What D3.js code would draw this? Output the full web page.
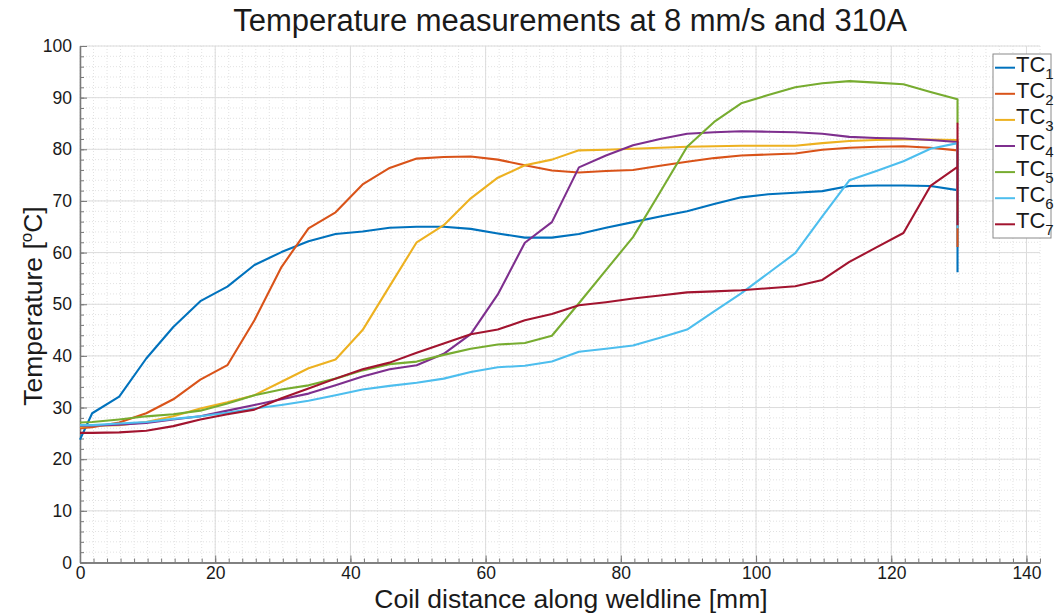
<!DOCTYPE html>
<html lang="en">
<head>
<meta charset="UTF-8"/>
<title>Temperature measurements at 8 mm/s and 310A</title>
<script src="https://d3js.org/d3.v7.min.js"></script>
<style>
    body { margin: 0; background: #ffffff; }
    svg text { font-family: "Liberation Sans", Arial, Helvetica, sans-serif; fill: #1a1a1a; }
</style>
</head>
<body>
<script>
// coil distance along weldline [mm]
var distance = [0, 1.8, 5.8, 9.8, 13.8, 17.8, 21.8, 25.8, 29.8, 33.8, 37.8, 41.8, 45.8, 49.8,
                53.8, 57.8, 61.8, 65.8, 69.8, 73.8, 77.8, 81.8, 85.8, 89.8, 93.8, 97.8,
                101.8, 105.8, 109.8, 113.8, 117.8, 121.8, 125.8, 129.8];

var tc1 = [23.8, 28.9, 32.1, 39.5, 45.6, 50.6, 53.4, 57.6, 60.1, 62.2, 63.6, 64.1, 64.8, 65.0,
           65.0, 64.6, 63.7, 62.9, 62.9, 63.6, 64.8, 65.9, 67.0, 68.0, 69.4, 70.7,
           71.3, 71.6, 71.9, 72.9, 73.0, 73.0, 72.9, 72.1];
var tc2 = [26.0, 26.2, 27.1, 28.9, 31.6, 35.4, 38.2, 46.9, 57.2, 64.7, 67.8, 73.2, 76.4, 78.2,
           78.5, 78.6, 78.0, 76.9, 75.9, 75.5, 75.8, 76.0, 76.8, 77.6, 78.3, 78.8,
           79.0, 79.2, 79.9, 80.3, 80.5, 80.6, 80.3, 79.8];
var tc3 = [26.3, 26.5, 26.6, 27.2, 28.3, 29.8, 31.0, 32.4, 35.0, 37.6, 39.3, 45.0, 53.5, 62.0,
           65.3, 70.5, 74.5, 76.9, 78.0, 79.8, 79.9, 80.1, 80.3, 80.5, 80.6, 80.7,
           80.7, 80.7, 81.2, 81.6, 81.8, 81.9, 81.9, 81.8];
var tc4 = [26.5, 26.5, 26.7, 27.0, 27.7, 28.3, 29.4, 30.5, 31.6, 32.7, 34.3, 36.0, 37.4, 38.2,
           40.4, 44.2, 51.9, 61.9, 65.9, 76.5, 78.8, 80.8, 82.0, 83.0, 83.3, 83.5,
           83.4, 83.3, 83.0, 82.4, 82.2, 82.1, 81.8, 81.4];
var tc5 = [27.1, 27.2, 27.7, 28.3, 28.7, 29.4, 30.8, 32.4, 33.5, 34.3, 35.6, 37.2, 38.4, 38.9,
           40.2, 41.4, 42.2, 42.5, 43.9, 50.2, 56.6, 63.0, 71.7, 80.5, 85.3, 88.9,
           90.5, 92.0, 92.8, 93.2, 92.9, 92.6, 91.1, 89.7];
var tc6 = [26.6, 26.6, 26.9, 27.2, 27.8, 28.3, 29.0, 29.8, 30.5, 31.3, 32.4, 33.5, 34.2, 34.8,
           35.6, 36.9, 37.8, 38.1, 38.9, 40.8, 41.4, 42.0, 43.5, 45.1, 48.6, 52.1,
           56.0, 59.9, 67.0, 74.0, 75.8, 77.7, 80.1, 81.2];
var tc7 = [25.1, 25.1, 25.2, 25.5, 26.4, 27.7, 28.7, 29.6, 31.8, 33.7, 35.6, 37.4, 38.7, 40.6,
           42.4, 44.2, 45.1, 46.9, 48.1, 49.8, 50.4, 51.1, 51.7, 52.3, 52.5, 52.7,
           53.1, 53.5, 54.7, 58.2, 61.0, 63.8, 72.9, 76.6];

// readings logged at the last position (the vertical drop at the end of each trace)
var endReadings = [[56.2], [61.1], [68.0], [70.0], [85.0], [64.7], [85.0, 65.3]];

var seriesNames = ["1", "2", "3", "4", "5", "6", "7"];
var seriesValues = [tc1, tc2, tc3, tc4, tc5, tc6, tc7];
var colors = ["#0072BD", "#D95319", "#EDB120", "#7E2F8E", "#77AC30", "#4DBEEE", "#A2142F"];

var xTicks = [0, 20, 40, 60, 80, 100, 120, 140];
var yTicks = [0, 10, 20, 30, 40, 50, 60, 70, 80, 90, 100];

var w = 1054, h = 614;
var padLeft = 80, padRight = 1040, padTop = 46, padBottom = 562.5;

var xScale = d3.scaleLinear().domain([0, 142]).range([padLeft, padRight]);
var yScale = d3.scaleLinear().domain([0, 100]).range([padBottom, padTop]);

var svg = d3.select("body").append("svg")
    .attr("width", w)
    .attr("height", h);

// grid: minor dotted every 2, major solid at ticks
var minorX = d3.range(0, 143, 2), minorY = d3.range(0, 101, 2);
var grid = svg.append("g");
grid.selectAll(".mx").data(minorX).enter().append("line")
    .attr("x1", d => xScale(d)).attr("x2", d => xScale(d))
    .attr("y1", padTop).attr("y2", padBottom)
    .attr("stroke", "#e2e2e2").attr("stroke-width", 1).attr("stroke-dasharray", "1,2");
grid.selectAll(".my").data(minorY).enter().append("line")
    .attr("y1", d => yScale(d)).attr("y2", d => yScale(d))
    .attr("x1", padLeft).attr("x2", padRight)
    .attr("stroke", "#e2e2e2").attr("stroke-width", 1).attr("stroke-dasharray", "1,2");
grid.selectAll(".gx").data(xTicks).enter().append("line")
    .attr("x1", d => xScale(d)).attr("x2", d => xScale(d))
    .attr("y1", padTop).attr("y2", padBottom)
    .attr("stroke", "#dcdcdc").attr("stroke-width", 1);
grid.selectAll(".gy").data(yTicks).enter().append("line")
    .attr("y1", d => yScale(d)).attr("y2", d => yScale(d))
    .attr("x1", padLeft).attr("x2", padRight)
    .attr("stroke", "#dcdcdc").attr("stroke-width", 1);

// axes
var xAxis = svg.append("g").attr("transform", "translate(0," + padBottom + ")")
    .call(d3.axisBottom(xScale).tickValues(xTicks).tickSizeInner(-7).tickSizeOuter(0).tickPadding(4));
var xMinor = svg.append("g").attr("transform", "translate(0," + padBottom + ")")
    .call(d3.axisBottom(xScale).tickValues(minorX).tickSizeInner(-4).tickSizeOuter(0).tickFormat(""));
var yAxis = svg.append("g").attr("transform", "translate(" + padLeft + ",0)")
    .call(d3.axisLeft(yScale).tickValues(yTicks).tickSizeInner(-7).tickSizeOuter(0).tickPadding(8));
var yMinor = svg.append("g").attr("transform", "translate(" + padLeft + ",0)")
    .call(d3.axisLeft(yScale).tickValues(minorY).tickSizeInner(-4).tickSizeOuter(0).tickFormat(""));

[xAxis, xMinor, yAxis, yMinor].forEach(function(a){
    a.selectAll("path").attr("stroke", "#7a7a7a").attr("stroke-width", 1.3);
    a.selectAll("line").attr("stroke", "#7a7a7a");
    a.selectAll("text").style("font-size", "17.5px").attr("fill", "#262626")
        .style("font-family", "'Liberation Sans', Arial, sans-serif");
});

// traces
var line = d3.line()
    .x(d => xScale(d[0]))
    .y(d => yScale(d[1]));

seriesValues.forEach(function(vals, i){
    var pts = distance.map((x, j) => [x, vals[j]]);
    var lastX = distance[distance.length - 1];
    endReadings[i].forEach(v => pts.push([lastX, v]));
    svg.append("path")
        .datum(pts)
        .attr("fill", "none")
        .attr("stroke", colors[i])
        .attr("stroke-width", 2.1)
        .attr("stroke-linejoin", "round")
        .attr("d", line);
});

// title and axis labels
svg.append("text")
    .attr("x", 570).attr("y", 31)
    .attr("text-anchor", "middle")
    .style("font-size", "31px")
    .text("Temperature measurements at 8 mm/s and 310A");

svg.append("text")
    .attr("x", 571).attr("y", 608)
    .attr("text-anchor", "middle")
    .style("font-size", "26.5px")
    .text("Coil distance along weldline [mm]");

var yl = svg.append("text")
    .attr("transform", "translate(42,306) rotate(-90)")
    .attr("text-anchor", "middle")
    .style("font-size", "26.5px");
yl.append("tspan").text("Temperature [");
yl.append("tspan").attr("dy", -10).style("font-size", "17px").text("o");
yl.append("tspan").attr("dy", 10).text("C]");

// legend
var legend = svg.append("g");
legend.append("rect")
    .attr("x", 993).attr("y", 54)
    .attr("width", 58).attr("height", 184)
    .attr("fill", "#ffffff")
    .attr("stroke", "#8a8a8a").attr("stroke-width", 1);

seriesNames.forEach(function(n, i){
    var yy = 67.7 + i * 26.1;
    legend.append("line")
        .attr("x1", 995).attr("x2", 1015)
        .attr("y1", yy).attr("y2", yy)
        .attr("stroke", colors[i]).attr("stroke-width", 2);
    var t = legend.append("text")
        .attr("x", 1016).attr("y", yy + 4)
        .style("font-size", "22px");
    t.append("tspan").text("TC");
    t.append("tspan").attr("dy", 7).style("font-size", "15px").text(n);
});
</script>
</body>
</html>
